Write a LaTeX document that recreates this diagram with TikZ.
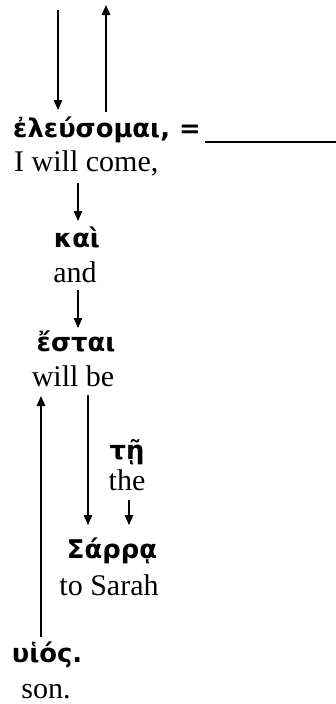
\documentclass[tikz,border=0pt]{standalone}
\usepackage{fontspec}
\setmainfont{Liberation Serif}
\newfontfamily\gk{DejaVu Sans}
\usetikzlibrary{arrows.meta}
\tikzset{
  gr/.style={font=\gk\bfseries\fontsize{25.8}{26}\selectfont, inner sep=0pt, anchor=base},
  en/.style={font=\fontsize{30}{30}\selectfont, inner sep=0pt, anchor=base},
  arr/.style={line width=1.4pt, -{Triangle[length=10pt,width=8.5pt]}},
  ln/.style={line width=1.4pt}
}
\begin{document}
\begin{tikzpicture}[x=1pt,y=-1pt]
\useasboundingbox (0,0) rectangle (336,704);
% words
\node[gr, anchor=base west] (eleu) at (13,137) {ἐλεύσομαι, =};
\node[en, anchor=base west] (come) at (14,171) {I will come,};
\node[gr] (kai) at (77,247) {καὶ};
\node[en] (and) at (75,282) {and};
\node[gr] (estai) at (76,351) {ἔσται};
\node[en] (willbe) at (73,386) {will be};
\node[gr] (te) at (127,459) {τῇ};
\node[en] (the) at (127,490) {the};
\node[gr] (sarra) at (112,558) {Σάρρᾳ};
\node[en] (tosarah) at (109,595) {to Sarah};
\node[gr] (huios) at (47,662) {υἱός.};
\node[en] (son) at (46,698) {son.};
% connector end points
\coordinate (a1s) at (58,10);   \coordinate (a1e) at (58,110);
\coordinate (a2s) at (106,112); \coordinate (a2e) at (106,5);
\coordinate (l1) at (205,142);  \coordinate (l2) at (336,142);
\coordinate (a3s) at (78,183);  \coordinate (a3e) at (78,221);
\coordinate (a4s) at (78,290);  \coordinate (a4e) at (78,328);
\coordinate (a5s) at (41,637);  \coordinate (a5e) at (41,396);
\coordinate (a6s) at (88,395);  \coordinate (a6e) at (88,525);
\coordinate (a7s) at (129,500); \coordinate (a7e) at (129,525);
% connectors
\draw[arr] (a1s) -- (a1e);
\draw[arr] (a2s) -- (a2e);
\draw[ln] (l1) -- (l2);
\draw[arr] (a3s) -- (a3e);
\draw[arr] (a4s) -- (a4e);
\draw[arr] (a5s) -- (a5e);
\draw[arr] (a6s) -- (a6e);
\draw[arr] (a7s) -- (a7e);
\end{tikzpicture}
\end{document}
